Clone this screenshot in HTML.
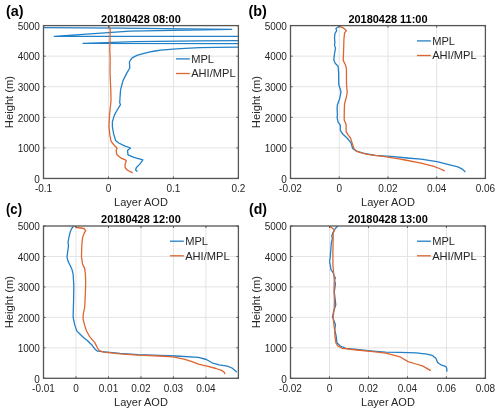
<!DOCTYPE html>
<html><head><meta charset="utf-8"><style>
html,body{margin:0;padding:0;background:#fff;width:500px;height:414px;overflow:hidden}
svg{display:block;font-family:"Liberation Sans",sans-serif;filter:blur(0.35px)}
</style></head><body>
<svg width="500" height="414" viewBox="0 0 500 414">
<rect width="500" height="414" fill="#fff"/>
<clipPath id="clip0"><rect x="43.5" y="25.6" width="194.9" height="152.85"/></clipPath>
<path d="M108.47 25.6V178.45M173.43 25.6V178.45M43.5 147.88H238.4M43.5 117.31H238.4M43.5 86.74H238.4M43.5 56.17H238.4" stroke="#e3e3e3" stroke-width="1" fill="none"/>
<polyline clip-path="url(#clip0)" points="-20,27.3 120,28.2 231.6,29.4 130,31.1 54.2,36.4 260,36.4 260,40.6 200,40.8 135,41.6 83,43.3 260,43.6 260,47.1 238.4,47.1 216,47.3 200,47.7 185,48.3 173,49.1 161,50.1 155,51 149,52.2 143,53.6 137,55.4 134.5,56.6 132.2,57.9 130.5,60 129.4,62 129.8,68 126.9,72.9 123,80.6 120.5,90.2 119.7,102.8 120.5,104.7 116.3,111.5 114.4,115.1 112.4,121.8 112.4,126.9 113.6,133.7 115.6,140.4 118.7,143 124.6,145.8 130.5,148 127.5,150.6 128,154.8 133.9,157.3 142.9,159.9 139.8,164.1 136.4,167.5 135.6,170 137,171.2" stroke="#2180C8" stroke-width="1.3" fill="none" stroke-linejoin="round" stroke-linecap="round"/>
<polyline clip-path="url(#clip0)" points="108.6,25.8 109.6,27.5 110.2,30 110,40 109.8,50 110.2,60 110,70 110.3,80 110.8,90 111,100 110.6,105 110,110 109.4,116.8 109,126.9 109.9,135.4 111.1,141.3 114.4,145.5 117,148 116.1,150.6 117,154.8 121.2,158.2 125.4,159.9 126.3,160.7 125.1,164.1 125.1,167.5 127.1,170 132.2,172.6" stroke="#DE6430" stroke-width="1.3" fill="none" stroke-linejoin="round" stroke-linecap="round"/>
<path d="M43.5 178.45v-2M43.5 25.6v2M108.47 178.45v-2M108.47 25.6v2M173.43 178.45v-2M173.43 25.6v2M238.4 178.45v-2M238.4 25.6v2M43.5 178.45h2M238.4 178.45h-2M43.5 147.88h2M238.4 147.88h-2M43.5 117.31h2M238.4 117.31h-2M43.5 86.74h2M238.4 86.74h-2M43.5 56.17h2M238.4 56.17h-2M43.5 25.6h2M238.4 25.6h-2" stroke="#555" stroke-width="1" fill="none"/>
<rect x="43.5" y="25.6" width="194.9" height="152.85" stroke="#555" stroke-width="1.3" fill="none"/>
<text x="39.9" y="182.65" text-anchor="end" font-size="10" fill="#262626">0</text>
<text x="39.9" y="152.08" text-anchor="end" font-size="10" fill="#262626">1000</text>
<text x="39.9" y="121.51" text-anchor="end" font-size="10" fill="#262626">2000</text>
<text x="39.9" y="90.94" text-anchor="end" font-size="10" fill="#262626">3000</text>
<text x="39.9" y="60.37" text-anchor="end" font-size="10" fill="#262626">4000</text>
<text x="39.9" y="29.8" text-anchor="end" font-size="10" fill="#262626">5000</text>
<text x="43.5" y="192.45" text-anchor="middle" font-size="10" fill="#262626">-0.1</text>
<text x="108.47" y="192.45" text-anchor="middle" font-size="10" fill="#262626">0</text>
<text x="173.43" y="192.45" text-anchor="middle" font-size="10" fill="#262626">0.1</text>
<text x="238.4" y="192.45" text-anchor="middle" font-size="10" fill="#262626">0.2</text>
<text x="140.95" y="206.15" text-anchor="middle" font-size="11.0" fill="#262626">Layer AOD</text>
<text transform="translate(13.1 102.02) rotate(-90)" text-anchor="middle" font-size="11.2" fill="#262626">Height (m)</text>
<text x="140.95" y="22.6" text-anchor="middle" font-size="10.95" font-weight="bold" fill="#000">20180428 08:00</text>
<text x="6" y="15.8" font-size="14.5" font-weight="bold" fill="#000" textLength="17.6" lengthAdjust="spacingAndGlyphs">(a)</text>
<path d="M176 58.9h13.8" stroke="#2180C8" stroke-width="1.3"/>
<path d="M176 73.5h13.8" stroke="#DE6430" stroke-width="1.3"/>
<text x="191.2" y="62.8" font-size="11.1" fill="#262626">MPL</text>
<text x="191.2" y="77.4" font-size="11.1" fill="#262626">AHI/MPL</text>
<clipPath id="clip1"><rect x="290.5" y="25.6" width="194.9" height="152.85"/></clipPath>
<path d="M339.23 25.6V178.45M387.95 25.6V178.45M436.67 25.6V178.45M290.5 147.88H485.4M290.5 117.31H485.4M290.5 86.74H485.4M290.5 56.17H485.4" stroke="#e3e3e3" stroke-width="1" fill="none"/>
<polyline clip-path="url(#clip1)" points="339.3,26.3 335.9,28.5 336.7,30.7 334.9,33.6 334.5,37.9 334.9,42.3 334.5,45.2 335.5,48.1 334.5,53.9 333.8,59.7 335.2,63.3 338.1,66.2 338.6,72.7 338.8,84.5 341,91.8 339.6,99 337.4,104.8 337.1,108.4 337.4,114.2 337.1,117.9 338.1,122.2 340.3,125.1 340.3,130.2 342.5,133.8 347,138 351,142.8 352.6,148.4 355.8,150.8 363,153.2 375,155.3 391,156.4 407,158 421,159.2 437,161.6 449.8,164.8 457.8,166.9 461.8,168.8 465,171.5" stroke="#2180C8" stroke-width="1.3" fill="none" stroke-linejoin="round" stroke-linecap="round"/>
<polyline clip-path="url(#clip1)" points="339.3,26.3 343.2,27.8 346.4,30.7 344.6,32.9 343.9,39.4 343.6,51 343.2,60.4 345.4,64.8 346.4,68.4 346.5,83.8 347.2,92.5 346.1,98.3 344.6,103.4 344.3,109.9 344.2,120 346.1,124.4 346.1,131.6 348.3,135.2 350.4,138 351,139.6 352.6,144.4 354.2,149.2 357.4,151.6 367,154.3 383,156.4 399,158.8 405,160 421,163.2 433.8,166.4 439.4,168.5 444.2,170.7" stroke="#DE6430" stroke-width="1.3" fill="none" stroke-linejoin="round" stroke-linecap="round"/>
<path d="M290.5 178.45v-2M290.5 25.6v2M339.23 178.45v-2M339.23 25.6v2M387.95 178.45v-2M387.95 25.6v2M436.67 178.45v-2M436.67 25.6v2M485.4 178.45v-2M485.4 25.6v2M290.5 178.45h2M485.4 178.45h-2M290.5 147.88h2M485.4 147.88h-2M290.5 117.31h2M485.4 117.31h-2M290.5 86.74h2M485.4 86.74h-2M290.5 56.17h2M485.4 56.17h-2M290.5 25.6h2M485.4 25.6h-2" stroke="#555" stroke-width="1" fill="none"/>
<rect x="290.5" y="25.6" width="194.9" height="152.85" stroke="#555" stroke-width="1.3" fill="none"/>
<text x="286.9" y="182.65" text-anchor="end" font-size="10" fill="#262626">0</text>
<text x="286.9" y="152.08" text-anchor="end" font-size="10" fill="#262626">1000</text>
<text x="286.9" y="121.51" text-anchor="end" font-size="10" fill="#262626">2000</text>
<text x="286.9" y="90.94" text-anchor="end" font-size="10" fill="#262626">3000</text>
<text x="286.9" y="60.37" text-anchor="end" font-size="10" fill="#262626">4000</text>
<text x="286.9" y="29.8" text-anchor="end" font-size="10" fill="#262626">5000</text>
<text x="290.5" y="192.45" text-anchor="middle" font-size="10" fill="#262626">-0.02</text>
<text x="339.23" y="192.45" text-anchor="middle" font-size="10" fill="#262626">0</text>
<text x="387.95" y="192.45" text-anchor="middle" font-size="10" fill="#262626">0.02</text>
<text x="436.67" y="192.45" text-anchor="middle" font-size="10" fill="#262626">0.04</text>
<text x="485.4" y="192.45" text-anchor="middle" font-size="10" fill="#262626">0.06</text>
<text x="387.95" y="206.15" text-anchor="middle" font-size="11.0" fill="#262626">Layer AOD</text>
<text transform="translate(260.1 102.02) rotate(-90)" text-anchor="middle" font-size="11.2" fill="#262626">Height (m)</text>
<text x="387.95" y="22.6" text-anchor="middle" font-size="10.95" font-weight="bold" fill="#000">20180428 11:00</text>
<text x="248.5" y="15.8" font-size="14.5" font-weight="bold" fill="#000" textLength="18.4" lengthAdjust="spacingAndGlyphs">(b)</text>
<path d="M417 40.9h13.8" stroke="#2180C8" stroke-width="1.3"/>
<path d="M417 55.5h13.8" stroke="#DE6430" stroke-width="1.3"/>
<text x="432.2" y="44.8" font-size="11.1" fill="#262626">MPL</text>
<text x="432.2" y="59.4" font-size="11.1" fill="#262626">AHI/MPL</text>
<clipPath id="clip2"><rect x="43.5" y="226" width="194.9" height="152.3"/></clipPath>
<path d="M75.98 226V378.3M108.47 226V378.3M140.95 226V378.3M173.43 226V378.3M205.92 226V378.3M43.5 347.84H238.4M43.5 317.38H238.4M43.5 286.92H238.4M43.5 256.46H238.4" stroke="#e3e3e3" stroke-width="1" fill="none"/>
<polyline clip-path="url(#clip2)" points="73.6,226.3 71.7,228.5 70.2,232.1 69.1,236.5 68,242.3 68.5,245.9 67.8,251 67,256.8 68,261.1 70.2,265.5 72.1,269.8 73.1,274.2 73.6,282 73.8,286.7 73.6,299.7 73.1,317.1 74.6,324.4 76.7,330.9 80.4,334.5 84,338 87.6,340.8 92.1,345.3 94.8,348.9 97.5,351.2 102,351.6 120,353.4 138,354.7 160,355.5 176,356 198.4,357.3 206.4,359.5 212.8,363.2 219.2,364.8 227.2,366.1 232,368 236.5,371.7" stroke="#2180C8" stroke-width="1.3" fill="none" stroke-linejoin="round" stroke-linecap="round"/>
<polyline clip-path="url(#clip2)" points="75.3,226.3 76.7,227.5 84,228.5 85.7,230.7 84,233.6 82.5,237.9 81.8,245.2 81.5,256.8 82.5,264 84.7,268.4 85.4,274.2 85.7,282 85.4,292.5 84.7,307 83.3,314.2 83,318.6 84.4,324.4 86.2,330.2 89.4,336.3 94.8,342.6 97.5,348 99.3,350.7 103.8,352.1 120,353.9 138,355.2 160,356 172.8,356.8 184,359.2 192,361.6 199.2,364.3 208,366.4 216,368.5 221.6,370.4 224,372 224.8,373.6" stroke="#DE6430" stroke-width="1.3" fill="none" stroke-linejoin="round" stroke-linecap="round"/>
<path d="M43.5 378.3v-2M43.5 226v2M75.98 378.3v-2M75.98 226v2M108.47 378.3v-2M108.47 226v2M140.95 378.3v-2M140.95 226v2M173.43 378.3v-2M173.43 226v2M205.92 378.3v-2M205.92 226v2M238.4 378.3v-2M238.4 226v2M43.5 378.3h2M238.4 378.3h-2M43.5 347.84h2M238.4 347.84h-2M43.5 317.38h2M238.4 317.38h-2M43.5 286.92h2M238.4 286.92h-2M43.5 256.46h2M238.4 256.46h-2M43.5 226h2M238.4 226h-2" stroke="#555" stroke-width="1" fill="none"/>
<rect x="43.5" y="226" width="194.9" height="152.3" stroke="#555" stroke-width="1.3" fill="none"/>
<text x="39.9" y="382.5" text-anchor="end" font-size="10" fill="#262626">0</text>
<text x="39.9" y="352.04" text-anchor="end" font-size="10" fill="#262626">1000</text>
<text x="39.9" y="321.58" text-anchor="end" font-size="10" fill="#262626">2000</text>
<text x="39.9" y="291.12" text-anchor="end" font-size="10" fill="#262626">3000</text>
<text x="39.9" y="260.66" text-anchor="end" font-size="10" fill="#262626">4000</text>
<text x="39.9" y="230.2" text-anchor="end" font-size="10" fill="#262626">5000</text>
<text x="43.5" y="392.3" text-anchor="middle" font-size="10" fill="#262626">-0.01</text>
<text x="75.98" y="392.3" text-anchor="middle" font-size="10" fill="#262626">0</text>
<text x="108.47" y="392.3" text-anchor="middle" font-size="10" fill="#262626">0.01</text>
<text x="140.95" y="392.3" text-anchor="middle" font-size="10" fill="#262626">0.02</text>
<text x="173.43" y="392.3" text-anchor="middle" font-size="10" fill="#262626">0.03</text>
<text x="205.92" y="392.3" text-anchor="middle" font-size="10" fill="#262626">0.04</text>
<text x="140.95" y="406" text-anchor="middle" font-size="11.0" fill="#262626">Layer AOD</text>
<text transform="translate(13.1 302.15) rotate(-90)" text-anchor="middle" font-size="11.2" fill="#262626">Height (m)</text>
<text x="140.95" y="223" text-anchor="middle" font-size="10.95" font-weight="bold" fill="#000">20180428 12:00</text>
<text x="6" y="213.8" font-size="14.5" font-weight="bold" fill="#000" textLength="16" lengthAdjust="spacingAndGlyphs">(c)</text>
<path d="M170 241.2h13.8" stroke="#2180C8" stroke-width="1.3"/>
<path d="M170 255.8h13.8" stroke="#DE6430" stroke-width="1.3"/>
<text x="185.2" y="245.1" font-size="11.1" fill="#262626">MPL</text>
<text x="185.2" y="259.7" font-size="11.1" fill="#262626">AHI/MPL</text>
<clipPath id="clip3"><rect x="290.5" y="226" width="194.9" height="152.3"/></clipPath>
<path d="M329.48 226V378.3M368.46 226V378.3M407.44 226V378.3M446.42 226V378.3M290.5 347.84H485.4M290.5 317.38H485.4M290.5 286.92H485.4M290.5 256.46H485.4" stroke="#e3e3e3" stroke-width="1" fill="none"/>
<polyline clip-path="url(#clip3)" points="337.5,226.3 335.4,228.5 333.9,230.7 332.5,233.6 331.7,236.5 332.5,237.9 331.4,242.3 330.7,251 330.3,256.8 329.6,261.1 330.3,265.5 331,269.8 333.2,272.7 333.9,275.6 335.4,277.8 334.6,280 335.4,283.8 334.3,292 335.8,304.8 333.5,312 332.5,317.1 335.4,324.4 334.8,330 336.2,336.4 337,342.8 340.2,346 345.8,348.4 357,349.5 373,351.1 385.8,352.1 400,352.3 416,352.8 427.2,354.1 432.8,355.7 436,358.4 437.6,362.4 440.8,364.8 445.6,366.4 446.7,368 446.9,371.2" stroke="#2180C8" stroke-width="1.3" fill="none" stroke-linejoin="round" stroke-linecap="round"/>
<polyline clip-path="url(#clip3)" points="329.6,226.3 331.7,227.8 334.6,230 333.2,232.9 333.2,236.5 332.9,251 332.9,265.5 333.5,271.3 334.3,280 334,290 334.4,300 334.2,308 333.2,317 333.6,322 334.6,330 335,336.4 335.9,342.8 337.8,346 342.6,348.4 357,350 373,351.6 385.8,353.2 395.4,355.6 400,356.8 408,361.6 416,364 422.4,365.9 430.4,370.4" stroke="#DE6430" stroke-width="1.3" fill="none" stroke-linejoin="round" stroke-linecap="round"/>
<path d="M290.5 378.3v-2M290.5 226v2M329.48 378.3v-2M329.48 226v2M368.46 378.3v-2M368.46 226v2M407.44 378.3v-2M407.44 226v2M446.42 378.3v-2M446.42 226v2M485.4 378.3v-2M485.4 226v2M290.5 378.3h2M485.4 378.3h-2M290.5 347.84h2M485.4 347.84h-2M290.5 317.38h2M485.4 317.38h-2M290.5 286.92h2M485.4 286.92h-2M290.5 256.46h2M485.4 256.46h-2M290.5 226h2M485.4 226h-2" stroke="#555" stroke-width="1" fill="none"/>
<rect x="290.5" y="226" width="194.9" height="152.3" stroke="#555" stroke-width="1.3" fill="none"/>
<text x="286.9" y="382.5" text-anchor="end" font-size="10" fill="#262626">0</text>
<text x="286.9" y="352.04" text-anchor="end" font-size="10" fill="#262626">1000</text>
<text x="286.9" y="321.58" text-anchor="end" font-size="10" fill="#262626">2000</text>
<text x="286.9" y="291.12" text-anchor="end" font-size="10" fill="#262626">3000</text>
<text x="286.9" y="260.66" text-anchor="end" font-size="10" fill="#262626">4000</text>
<text x="286.9" y="230.2" text-anchor="end" font-size="10" fill="#262626">5000</text>
<text x="290.5" y="392.3" text-anchor="middle" font-size="10" fill="#262626">-0.02</text>
<text x="329.48" y="392.3" text-anchor="middle" font-size="10" fill="#262626">0</text>
<text x="368.46" y="392.3" text-anchor="middle" font-size="10" fill="#262626">0.02</text>
<text x="407.44" y="392.3" text-anchor="middle" font-size="10" fill="#262626">0.04</text>
<text x="446.42" y="392.3" text-anchor="middle" font-size="10" fill="#262626">0.06</text>
<text x="485.4" y="392.3" text-anchor="middle" font-size="10" fill="#262626">0.08</text>
<text x="387.95" y="406" text-anchor="middle" font-size="11.0" fill="#262626">Layer AOD</text>
<text transform="translate(260.1 302.15) rotate(-90)" text-anchor="middle" font-size="11.2" fill="#262626">Height (m)</text>
<text x="387.95" y="223" text-anchor="middle" font-size="10.95" font-weight="bold" fill="#000">20180428 13:00</text>
<text x="249" y="213.8" font-size="14.5" font-weight="bold" fill="#000" textLength="18" lengthAdjust="spacingAndGlyphs">(d)</text>
<path d="M417 241.2h13.8" stroke="#2180C8" stroke-width="1.3"/>
<path d="M417 255.8h13.8" stroke="#DE6430" stroke-width="1.3"/>
<text x="432.2" y="245.1" font-size="11.1" fill="#262626">MPL</text>
<text x="432.2" y="259.7" font-size="11.1" fill="#262626">AHI/MPL</text>
</svg>
</body></html>
